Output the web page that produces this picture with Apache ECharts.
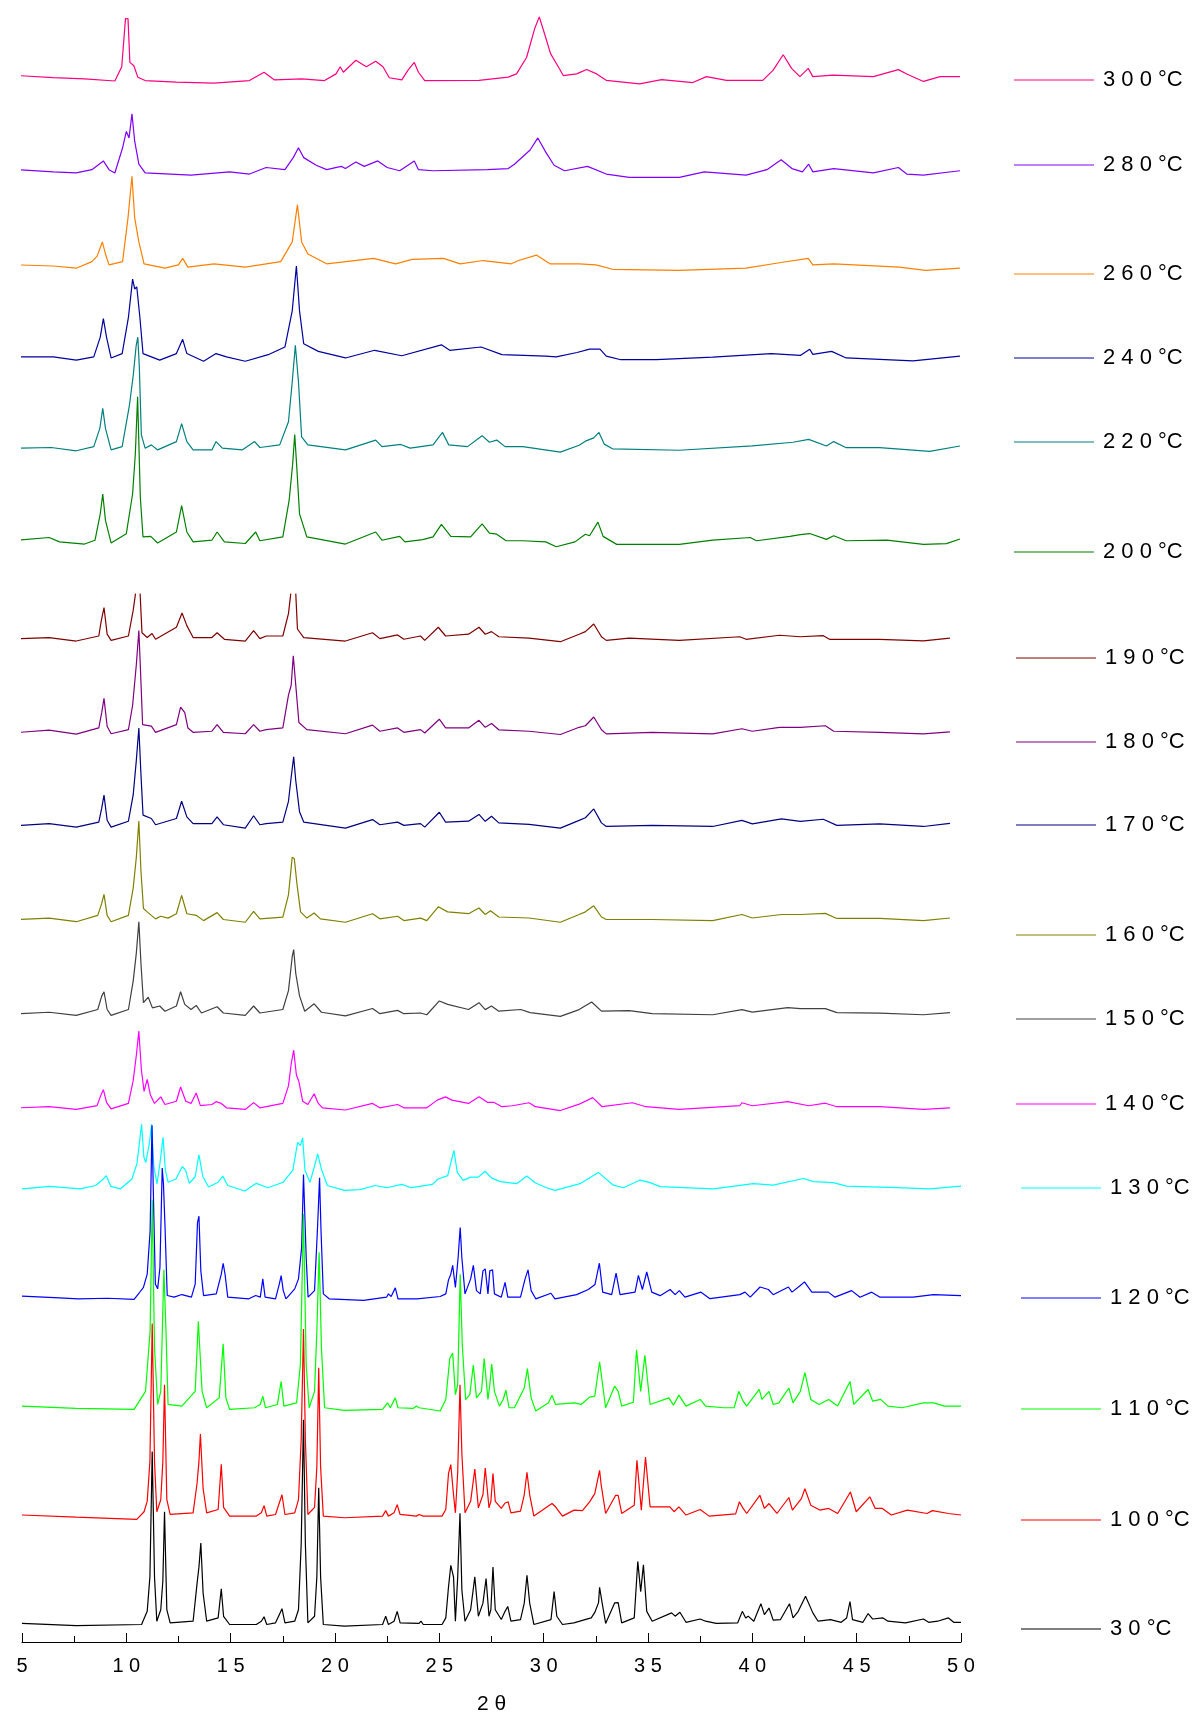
<!DOCTYPE html>
<html><head><meta charset="utf-8">
<script src="https://cdn.jsdelivr.net/npm/echarts@6/dist/echarts.min.js"></script>
<style>html,body{margin:0;padding:0;background:#fff}#c{width:1197px;height:1720px}</style>
</head><body><div id="c"></div>
<script>
// ---- tick labels ----
const xTicks = [5, 10, 15, 20, 25, 30, 35, 40, 45, 50];
const xTickLabels = ['5', '1 0', '1 5', '2 0', '2 5', '3 0', '3 5', '4 0', '4 5', '5 0'];

// ---- series names (top to bottom) ----
const names = ['3 0 0 °C','2 8 0 °C','2 6 0 °C','2 4 0 °C','2 2 0 °C','2 0 0 °C','1 9 0 °C','1 8 0 °C','1 7 0 °C','1 6 0 °C','1 5 0 °C','1 4 0 °C','1 3 0 °C','1 2 0 °C','1 1 0 °C','1 0 0 °C','3 0 °C'];
// vertical stacking offsets of each pattern (intensity units)
const offsets = [1428,1343,1258,1174,1090,1005,916,831,746,660,574,488,415,315,214,115,16];

// ---- patterns: [2theta, intensity above own baseline] ----
const t300 = [[4.8,3],[6.5,1],[8,0],[9.45,-2],[9.78,11],[9.96,55],[10.08,55],[10.17,15],[10.36,12],[10.55,1.5],[10.9,-1.6],[12.4,-3],[14.2,-4],[15.9,-1.6],[16.6,6],[17.1,-1],[18.4,0],[19.5,-1.6],[20.05,4.5],[20.25,11],[20.4,6],[21.0,17],[21.5,11],[21.95,16],[22.3,11],[22.6,1],[23.2,-1],[23.5,8],[23.8,15],[24.0,6],[24.3,-1.6],[26.9,-1.5],[28.3,1.5],[28.7,4.5],[29.18,19.5],[29.58,46.5],[29.79,56.6],[30.06,40],[30.33,23],[30.7,11],[30.94,3],[31.58,4.5],[32.06,8.5],[32.54,4.5],[33.0,-1.4],[34.6,-4.7],[35.65,-0.7],[37.15,-3.4],[37.8,2],[38.76,-1.4],[40.5,-1.4],[41.0,8],[41.48,22],[41.88,9.5],[42.28,2],[42.68,9.5],[42.9,2],[43.87,3.3],[45.8,2],[47.0,8.4],[47.4,4.4],[48.2,-2.4],[49.0,2],[49.95,2]];
const t280 = [[4.8,2],[6.5,0],[7.6,-1],[8.35,2],[8.9,10],[9.17,2],[9.45,-1],[9.82,22],[10.0,37],[10.13,31],[10.27,53],[10.4,28],[10.6,7],[10.9,-1],[13.1,-3],[14.95,0],[15.9,-2],[16.7,4],[17.6,2],[18.0,13],[18.25,22],[18.5,13],[19.1,6],[19.6,2],[20.3,5],[20.5,3],[21.0,9],[21.4,5],[22.05,10],[22.5,4],[23.1,1],[23.8,10],[24.0,2],[24.7,1],[27.3,2],[28.3,3],[28.6,7],[29.35,20],[29.72,31],[30.1,18],[30.5,6],[31.0,1],[32.1,5],[33.0,-2],[34.1,-5],[36.5,-5],[37.7,0],[39.7,-3],[40.7,2],[41.38,11],[41.9,3],[42.4,0],[42.7,7],[42.9,0],[43.9,3],[45.8,-1],[47.0,4],[47.4,-2],[48.2,-3],[49.95,1]];
const t260 = [[4.8,0],[6.5,-1],[7.6,-3],[8.35,3],[8.6,8],[8.85,21],[9.0,10],[9.17,0],[9.82,3],[10.08,43],[10.27,81],[10.4,43],[10.6,21],[10.85,1],[11.85,-3],[12.5,0],[12.7,6],[12.95,-2],[14.2,1],[15.7,-2],[17.4,3],[17.95,21],[18.2,55],[18.4,21],[18.7,10],[19.6,1],[21.85,6],[22.9,1],[23.7,5],[25.2,6],[26.0,1],[27.1,4],[28.45,1],[28.8,4],[29.65,9],[30.3,1],[31.7,1],[32.5,0],[33.3,-4],[36.5,-5],[39.7,-3],[41.3,2],[42.68,6],[42.9,0],[43.9,1],[47.05,-2],[48.3,-5],[49.95,-3]];
const t240 = [[4.8,0],[6.5,0],[7.6,-3],[8.44,0],[8.75,18],[8.9,35],[9.05,18],[9.27,-1],[9.8,3],[10.1,36],[10.3,71],[10.4,62],[10.5,64],[10.65,36],[10.8,3],[11.6,-3],[12.4,3],[12.7,16],[12.9,3],[13.7,-4],[14.3,3],[14.8,0],[15.7,-4],[16.8,2],[17.6,9],[17.95,42],[18.15,83],[18.3,42],[18.5,12],[19.2,5],[20.5,-1],[21.9,6],[23.2,1],[25.1,11],[25.5,6],[27.0,9],[28.0,2],[30.1,0.7],[30.6,0],[31.6,4],[32.2,7],[32.7,7],[33.0,0.7],[33.7,-2.6],[35.4,-2.6],[38.1,-0.3],[40.9,3],[42.3,1.3],[42.75,7],[42.9,2.3],[43.8,5],[44.5,-1],[47.7,-3.6],[49.95,0.7]];
const t220 = [[4.8,0.6],[6.4,1.2],[7.6,-1.8],[8.44,2],[8.73,18.7],[8.87,37],[9.0,18.7],[9.27,-1],[9.8,2],[10.15,40],[10.33,67],[10.47,94],[10.55,102],[10.62,76],[10.72,12.7],[10.9,0.6],[11.2,3.6],[11.5,-1],[12.4,6.6],[12.65,23],[12.9,6.6],[13.2,-1],[14.1,-1],[14.3,6.6],[14.6,0.6],[15.55,-1],[16.15,6.6],[16.4,1.2],[17.35,3.6],[17.77,24.7],[17.95,61],[18.1,94.6],[18.25,61],[18.4,11],[18.7,3.6],[20.5,-1],[21.95,8],[22.25,2],[23.15,4],[23.6,0.6],[24.7,3.6],[25.15,15],[25.45,3.6],[26.35,2],[27.05,12],[27.4,6],[27.75,8],[28.15,2],[29.0,2],[30.8,-3],[31.7,3.3],[32.0,7],[32.4,10],[32.65,15],[32.9,4.3],[33.3,0],[36.5,-1.3],[40.0,2.6],[41.95,6],[42.7,8.6],[43.55,2.6],[43.9,6.6],[44.5,1],[46.1,1],[48.5,-2.3],[49.95,2.6]];
const t200 = [[4.8,1.5],[6.3,4],[6.8,0],[8.0,-2],[8.5,1.5],[8.75,25.6],[8.87,43.7],[9.0,19.6],[9.27,-1],[10.0,7.5],[10.3,43.7],[10.43,80],[10.54,132.5],[10.6,132.5],[10.67,40.7],[10.8,4.5],[11.17,5],[11.5,-1],[12.4,9],[12.65,33],[12.9,9],[13.2,0],[14.1,1.5],[14.35,9],[14.7,0],[15.7,-1.5],[16.2,9],[16.4,1],[17.5,4.5],[17.8,37.6],[17.97,70.8],[18.07,98],[18.16,70.8],[18.3,25.6],[18.65,4.5],[20.5,-2],[21.95,9],[22.25,1.5],[23.1,5],[23.35,0],[24.2,2],[24.7,4.5],[25.1,16],[25.55,5],[26.5,4.5],[27.05,16.5],[27.4,8],[27.75,7],[28.2,1],[29.0,1],[30.1,0],[30.6,-4.5],[31.5,0],[32.0,7],[32.2,5.6],[32.6,18],[32.85,5],[33.5,-2.3],[36.5,-2.3],[38.1,1.6],[39.9,4],[40.2,1],[41.8,5],[42.3,6.6],[42.75,7.6],[43.55,2.3],[43.9,5.6],[44.5,1],[46.45,1.6],[48.2,-2.3],[49.3,-1.6],[49.95,2.6]];
const t190 = [[4.9,0.6],[6.3,1.6],[7.6,-1.6],[8.68,3],[8.8,17],[8.93,29],[9.08,4.7],[9.27,-1],[10.1,3],[10.33,26.6],[10.44,41.7],[10.55,'-'],[10.66,41.7],[10.75,6],[11.0,1.6],[11.23,5.3],[11.4,0],[12.4,11],[12.67,24],[12.9,12.5],[13.2,1.6],[14.1,1.6],[14.35,6],[14.7,0],[15.7,-1.6],[16.1,8],[16.4,0.6],[16.7,3],[17.5,3],[17.77,23.5],[17.88,41.7],[18.0,'-'],[18.12,41.7],[18.2,9.4],[18.5,1.6],[20.5,-1.6],[21.8,6],[22.15,0.6],[23.0,4],[23.3,0],[24.1,3],[24.3,-1],[24.95,11],[25.3,3],[26.4,4.7],[26.9,11],[27.2,4.6],[27.5,7],[27.85,2.3],[29.3,1],[30.8,-2.2],[31.7,4.6],[32.0,7],[32.4,14],[32.77,2.3],[33.0,-1],[34.1,1],[36.5,-1],[39.4,2.3],[39.7,0],[41.3,3.7],[42.3,2.3],[43.4,3.3],[43.7,0],[46.1,0],[48.2,-1.4],[49.47,1]];
const t180 = [[4.9,0],[6.3,2],[7.6,-1.6],[8.68,4],[8.82,18],[8.93,31],[9.08,5.6],[9.27,-1.3],[10.1,2.5],[10.3,24.5],[10.48,62],[10.6,93],[10.68,56],[10.78,7],[11.2,5.6],[11.4,0],[12.4,7],[12.6,23],[12.8,18],[12.95,4],[13.2,0],[14.1,1],[14.35,7],[14.65,0],[15.7,-1.3],[16.1,7],[16.4,1],[16.7,2.5],[17.5,4],[17.77,34],[17.9,43],[18.0,70],[18.12,43],[18.27,9],[18.65,2.5],[20.5,-1.3],[21.8,6.6],[22.15,1],[23.0,4],[23.3,0],[24.1,2.5],[24.3,-0.6],[25.0,12],[25.3,4],[26.4,4],[26.9,11],[27.2,4.6],[27.5,8],[27.85,2.3],[29.3,1],[30.8,-2],[31.7,4.6],[32.0,6],[32.4,14],[32.77,2.3],[33.0,-1.4],[35.2,0],[38.1,-1.4],[39.5,3.3],[40.0,1],[41.3,4.6],[42.3,4.6],[43.5,6],[43.9,1],[46.1,0],[48.2,-1.4],[49.47,0.5]];
const t170 = [[4.9,0],[6.3,1.6],[7.6,-1.6],[8.68,3],[8.82,15.7],[8.93,27.6],[9.08,4.7],[9.27,-1.6],[10.1,3.8],[10.33,28],[10.48,59.6],[10.6,89],[10.7,47],[10.8,9.4],[11.2,6.3],[11.4,0.6],[12.4,6.3],[12.65,22],[12.9,7.8],[13.2,1.6],[14.1,1.6],[14.35,7.8],[14.65,0.6],[15.7,-2.5],[16.1,8.8],[16.4,0.6],[16.7,1.6],[17.5,3],[17.77,22],[17.9,44],[18.02,62.7],[18.12,40.8],[18.3,12.5],[18.5,3],[20.5,-2.5],[21.8,5.3],[22.15,0.6],[23.0,3],[23.3,0],[24.1,1.6],[24.3,-1.6],[25.0,12],[25.3,3],[26.4,3.8],[26.9,10],[27.2,3.7],[27.5,8.4],[27.85,2.3],[29.3,1],[30.8,-2.5],[31.7,4.6],[32.0,7],[32.4,15],[32.77,2.3],[33.0,-1],[35.2,0],[38.1,-1],[39.5,4.6],[40.0,1.4],[41.4,6],[42.3,3.7],[43.4,5.6],[44.05,0],[46.1,1.4],[48.2,-1],[49.47,1.9]];
const t160 = [[4.9,0],[6.3,1.3],[7.6,-2],[8.63,3.8],[8.82,14.7],[8.93,23],[9.08,3.8],[9.27,-2],[10.1,3.8],[10.33,29],[10.48,57],[10.6,90],[10.7,44.5],[10.82,10],[11.0,7],[11.4,0.6],[11.65,3],[12.0,1.3],[12.4,5.3],[12.65,22],[12.9,5.3],[13.35,3.8],[13.7,-1],[14.35,6.3],[14.65,0],[15.7,-2.5],[16.1,7.5],[16.4,0.6],[17.5,2.2],[17.77,22.6],[17.95,57],[18.05,55.5],[18.18,32],[18.35,7],[18.65,1.3],[19.0,6],[19.3,0.6],[20.5,-2.5],[21.8,5.3],[22.15,0.6],[23.0,3],[23.3,-1],[24.1,1.3],[24.4,-1],[24.95,11.6],[25.4,7],[26.4,5.3],[26.9,10.5],[27.2,4.6],[27.45,8],[27.85,2.3],[29.3,1.4],[30.8,-2.5],[31.7,4.6],[32.0,7],[32.4,12.5],[32.77,2.3],[33.0,0],[35.2,0],[38.1,-1],[39.5,4.6],[40.0,1.4],[41.4,4.6],[42.3,4.6],[43.5,5.6],[44.05,1],[46.1,1],[48.2,-1],[49.47,1.4]];
const t150 = [[4.9,0],[6.3,1.3],[7.6,-1.6],[8.63,3.8],[8.82,16],[8.93,20],[9.08,3.8],[9.27,-1.6],[10.1,3.8],[10.33,30],[10.48,55.5],[10.6,84],[10.7,46],[10.82,10],[11.05,15],[11.25,5.3],[11.6,7],[11.85,2.2],[12.4,7],[12.6,20],[12.8,8.5],[13.1,3.8],[13.35,7.5],[13.6,0.6],[14.35,6.3],[14.65,0.6],[15.7,-1.6],[16.1,7],[16.4,0.6],[17.5,3.8],[17.77,21],[17.95,52],[18.02,58.6],[18.12,36.7],[18.3,16.3],[18.55,2.2],[19.0,9],[19.35,1.3],[20.5,-2],[21.8,4.7],[22.15,0],[23.0,3],[23.3,0],[24.1,0.6],[24.4,-1],[25.0,11.6],[25.4,8.5],[26.4,3.8],[26.9,10],[27.2,3.7],[27.5,7],[27.85,2.3],[28.9,3.8],[29.35,1],[30.8,-2.5],[31.7,3.7],[32.3,10.7],[32.77,2.3],[34.1,2.8],[35.2,0],[38.1,-1],[39.5,3.7],[40.0,1.4],[41.7,5.6],[42.3,4.6],[43.5,4.6],[44.05,1],[46.1,0.5],[48.2,-1],[49.47,1]];
const t140 = [[4.9,0],[6.3,1],[7.6,-1.5],[8.6,2],[8.75,10],[8.9,16.6],[9.05,5],[9.27,-1],[10.1,4],[10.33,25],[10.48,48],[10.6,70],[10.72,35],[10.85,15],[11.0,26],[11.15,12],[11.35,4],[11.65,10],[11.85,3],[12.4,6],[12.6,19],[12.85,6],[13.1,4],[13.35,13.5],[13.55,2],[14.1,3],[14.3,5.6],[14.55,4],[14.8,0],[15.7,-1.5],[16.1,4.7],[16.4,0],[17.5,4],[17.77,20],[17.9,40],[18.02,52.6],[18.15,30],[18.27,24],[18.45,6],[18.7,3],[19.0,12.8],[19.2,4],[19.4,0],[20.5,-2],[21.8,4],[22.15,0],[23.0,3],[23.3,0],[24.4,0],[24.9,7],[25.3,10],[25.6,7],[26.4,4],[26.9,10],[27.3,5],[27.6,5],[28.0,1],[28.5,1.9],[29.3,4.6],[29.6,1],[30.8,-2.5],[31.7,3.3],[32.35,9.3],[32.8,1],[34.25,4.6],[34.9,1],[36.5,-1.4],[39.4,1.9],[39.5,4.6],[40.0,1.9],[41.7,5.6],[42.7,1.9],[43.5,4.2],[44.05,1],[46.1,1],[48.2,-1.4],[49.47,0]];
const t130 = [[5.0,-1],[6.33,1.2],[7.8,-1],[8.53,2],[8.9,8],[9.04,11],[9.26,1.2],[9.72,-1],[10.27,8],[10.51,22],[10.64,43],[10.73,58],[10.84,28],[10.93,23],[11.1,40],[11.21,58],[11.32,19],[11.47,3.6],[11.61,22],[11.76,46],[11.87,16],[12.0,5],[12.38,8],[12.68,19.4],[12.84,16],[13.02,4],[13.3,10],[13.48,30],[13.67,10],[13.94,0.6],[14.4,5],[14.62,10.6],[14.86,2],[15.68,-3],[16.23,4],[16.78,0],[17.52,5],[17.98,16],[18.21,41.5],[18.34,38.5],[18.45,45.5],[18.56,16],[18.8,5],[19.02,20],[19.17,31],[19.35,17],[19.63,2],[20.45,-2.4],[21.2,-1.8],[21.92,2],[22.47,0],[23.2,3],[23.66,0],[24.67,3],[24.94,8],[25.4,11],[25.7,34],[25.86,14],[26.14,6.7],[26.5,9.7],[26.87,9.7],[27.19,15],[27.5,9],[27.91,5.6],[28.71,3.7],[29.19,10.7],[29.59,4.6],[30.14,0],[30.54,-2.4],[31.74,3.7],[32.62,14],[33.34,2.3],[33.82,0],[34.62,7],[35.1,4.6],[35.58,1],[38.13,-1],[40.05,3.7],[41.0,2.3],[42.45,8.4],[42.93,5.6],[43.88,4.6],[44.52,1.4],[46.92,0],[48.5,-1],[50.0,1.4]];
const t120 = [[5.0,1],[6.8,-0.6],[7.7,-1.5],[9.1,-1],[10.37,-2],[10.64,4.5],[10.82,9],[11.0,21],[11.14,60.6],[11.23,157],[11.3,91],[11.39,12],[11.5,7.6],[11.61,27],[11.72,118],[11.78,103],[11.85,66.7],[11.96,1.5],[12.29,0],[12.66,2.4],[13.12,0],[13.3,12],[13.41,68],[13.48,74],[13.57,24],[13.7,1.5],[14.31,3],[14.55,21],[14.64,31],[14.73,21],[14.86,0],[15.87,-1.5],[16.2,1.5],[16.42,0],[16.54,16.7],[16.65,0],[17.15,-1.5],[17.33,12],[17.42,19.7],[17.52,6],[17.65,-1.5],[18.07,7.6],[18.25,16.7],[18.4,45],[18.49,112],[18.54,112],[18.62,36],[18.71,0],[19.02,6],[19.17,66.7],[19.26,109],[19.33,60.6],[19.44,3],[19.72,-1.5],[21.37,-3],[22.47,0],[22.56,3],[22.69,0.6],[22.89,8.5],[23.02,-1.5],[23.93,-1.5],[25.04,0.6],[25.31,3],[25.44,15.8],[25.55,21],[25.64,29],[25.77,9],[25.9,36],[26.0,63.6],[26.08,36],[26.23,3],[26.5,16.7],[26.63,29],[26.78,6],[26.96,3],[27.09,24],[27.2,25.8],[27.33,3],[27.42,24],[27.55,25],[27.64,3],[27.97,0],[28.15,13.6],[28.28,0],[28.89,0],[29.11,16.7],[29.25,25],[29.4,6],[29.62,-1.5],[30.35,3.6],[30.54,-1.5],[31.58,2.3],[32.14,7],[32.46,11.6],[32.67,31],[32.83,4.6],[33.26,2.3],[33.47,22],[33.66,2.3],[34.38,4.6],[34.54,20],[34.73,7],[34.94,23],[35.18,4.6],[35.58,1.4],[36.06,7],[36.3,2.3],[36.5,6],[36.77,0],[37.54,4.6],[37.97,-1.4],[39.4,2.3],[39.65,4.6],[39.9,0],[40.37,9.3],[40.77,7],[41.0,2.3],[41.73,9.3],[41.9,4.6],[42.3,10.7],[42.5,14],[42.85,4.6],[43.64,4.6],[43.96,0],[44.76,6],[45.16,0],[45.72,4.6],[46.12,0],[47.7,0],[48.68,2.3],[50.0,1.4]];
const t110 = [[5.0,1.5],[7.6,-0.6],[10.37,-1.5],[10.92,15],[11.14,70],[11.24,190],[11.35,55],[11.5,3],[11.65,15],[11.8,126],[11.9,70],[12.0,3],[12.66,1.5],[13.3,15],[13.45,79],[13.52,79],[13.63,15],[13.85,0],[14.45,9],[14.64,58.5],[14.77,9],[14.95,-1.5],[16.14,0],[16.42,3],[16.54,10.6],[16.67,0],[17.24,3],[17.42,24],[17.55,1.5],[18.16,4.5],[18.34,39],[18.49,177],[18.62,39],[18.76,0],[19.02,15],[19.13,70],[19.24,142],[19.35,55],[19.5,0],[20.45,-2.4],[22.28,-1.5],[22.52,4.5],[22.65,0],[22.89,9],[23.02,0],[23.75,-0.6],[23.9,1.5],[24.03,0],[25.04,-3],[25.31,7.5],[25.5,45],[25.64,50],[25.77,12],[25.88,21],[26.0,122],[26.1,57.6],[26.26,7.5],[26.46,12],[26.63,39],[26.78,9],[27.02,15],[27.15,45],[27.33,7.5],[27.42,21],[27.51,40],[27.64,15],[27.88,1.5],[28.06,7.5],[28.19,16],[28.34,0],[28.6,0],[29.07,18],[29.22,35.7],[29.4,9],[29.62,-3],[30.23,4.5],[30.4,11.5],[30.57,3],[31.46,4.5],[31.8,3],[32.2,9.7],[32.45,10.6],[32.68,42],[32.97,0],[33.4,19.7],[33.57,15],[33.74,1.5],[34.3,5],[34.45,53],[34.65,15],[34.85,48],[35.1,3],[36.0,9],[36.22,2.4],[36.48,11.5],[36.82,1.5],[37.5,7.6],[37.76,1.5],[38.62,0],[39.13,0],[39.35,15],[39.56,6],[39.73,1.5],[40.33,16.7],[40.46,7.6],[40.8,15],[41.0,3],[41.27,4.5],[41.75,18],[41.95,4.5],[42.3,15],[42.52,32],[42.8,7.6],[43.2,3],[43.66,7.6],[44.09,1.5],[44.68,24],[44.86,3],[45.55,16.7],[45.77,6],[46.15,7.6],[46.5,1.5],[47.17,0],[48.2,4.5],[48.7,4.5],[49.2,1.5],[50.0,1.5]];
const t100 = [[5.0,1],[7.6,-1],[10.5,-3],[10.85,4],[11.0,13.5],[11.13,50],[11.24,176],[11.35,50],[11.46,4],[11.65,15],[11.75,50],[11.83,120],[11.94,15],[12.1,1.5],[13.2,3],[13.39,30],[13.48,50],[13.55,75],[13.68,25],[13.85,3],[14.4,6],[14.55,47.4],[14.66,8],[14.95,0],[16.23,0],[16.47,3],[16.6,9.6],[16.73,0],[17.15,1.5],[17.33,12],[17.46,19.5],[17.6,1.5],[18.07,3],[18.25,15],[18.38,70],[18.49,171],[18.58,70],[18.7,1.5],[19.02,8],[19.13,45],[19.22,135.5],[19.31,45],[19.44,0],[20.45,-1.5],[22.28,0],[22.43,5],[22.56,0],[22.83,3],[22.98,10.5],[23.12,1.5],[23.9,0],[24.03,1.5],[24.23,0],[25.13,0],[25.31,6],[25.44,39],[25.55,47],[25.68,19.5],[25.77,3],[25.88,40],[25.99,120],[26.08,57],[26.23,3],[26.5,13.5],[26.7,43],[26.87,7.5],[27.09,19.5],[27.2,44],[27.38,7.5],[27.47,13.5],[27.57,39],[27.68,13.5],[27.97,7],[28.15,12],[28.3,13],[28.43,3],[28.89,4.5],[29.07,19.5],[29.2,40],[29.33,19.5],[29.53,0],[30.4,11.5],[30.57,8.5],[30.9,0],[31.46,5.5],[31.86,5],[32.2,13],[32.45,20.6],[32.68,41.8],[32.76,28],[32.97,2.4],[33.45,19],[33.57,19],[33.74,2.4],[34.34,10],[34.47,51],[34.68,5.5],[34.88,54],[35.1,8.5],[36.05,8.5],[36.25,4],[36.48,8.5],[36.82,1],[37.5,6],[37.93,0],[39.2,2],[39.38,13],[39.56,7],[39.73,2.4],[40.36,19],[40.58,7],[40.8,11.5],[41.18,2.4],[41.75,17],[41.92,5.5],[42.35,16],[42.52,25],[42.8,10],[43.23,5.5],[43.66,7],[44.09,2.4],[44.7,22],[44.98,4],[45.63,17.6],[45.89,7],[46.23,7],[46.66,1],[47.43,5.5],[48.37,2.4],[48.63,5],[49.4,2.4],[50.0,1]];
const t30 = [[5.0,1],[7.6,-1],[10.73,0],[11.0,12],[11.13,43.5],[11.24,158],[11.35,43.5],[11.46,3],[11.65,13.5],[11.75,40],[11.83,103],[11.94,13.5],[12.1,1.5],[13.2,3],[13.39,37.5],[13.48,52.5],[13.57,74.5],[13.68,28.5],[13.85,3],[14.4,6],[14.55,32.7],[14.66,7.5],[14.95,0],[16.23,0],[16.47,3],[16.6,7],[16.73,0],[17.15,1.5],[17.33,9],[17.46,14.4],[17.6,1.5],[18.07,3],[18.25,13.5],[18.38,73.6],[18.49,187],[18.58,73.6],[18.7,1.5],[19.02,7.5],[19.13,43.5],[19.22,125],[19.31,43.5],[19.44,0],[20.45,-1.5],[22.28,0],[22.43,7.5],[22.56,0],[22.83,3],[22.98,12],[23.12,1.5],[24.03,1],[24.12,3],[24.23,0],[25.13,0],[25.31,6],[25.44,34.5],[25.55,54],[25.68,43.5],[25.77,3],[25.88,43.5],[25.99,101.5],[26.08,31.5],[26.23,3],[26.5,13.5],[26.7,43.5],[26.87,7.5],[27.09,19.5],[27.24,42],[27.38,7.5],[27.47,13.5],[27.57,52.5],[27.68,13.5],[27.97,4.5],[28.15,12],[28.28,16.5],[28.43,3],[28.89,4.5],[29.07,19.5],[29.2,45],[29.33,19.5],[29.53,0],[30.35,4.5],[30.5,30],[30.63,7.5],[30.9,0],[31.45,1.5],[31.98,4.5],[32.28,6],[32.45,11],[32.63,20],[32.68,34],[32.8,20],[32.97,1],[33.4,19.7],[33.57,20],[33.74,1.5],[34.34,6],[34.51,57.6],[34.65,30],[34.78,54.5],[34.94,12],[35.2,3],[36.13,10.6],[36.3,7.6],[36.53,11.2],[36.82,2],[37.5,5],[37.76,3],[38.27,1],[39.3,1.5],[39.52,12],[39.68,6],[39.8,7.6],[40.07,3],[40.41,19],[40.58,9],[40.8,15],[41.0,4],[41.35,4.5],[41.78,19],[41.95,6],[42.2,12],[42.55,25.8],[42.9,10.6],[43.15,3],[43.75,4.5],[44.26,2],[44.52,6],[44.68,21],[44.8,4.5],[45.3,2],[45.55,10],[45.77,5],[46.26,6],[46.5,3],[47.34,1.5],[48.2,5],[48.45,2],[48.88,3],[49.4,6],[49.65,2],[50.0,2]];

const patterns = [t300,t280,t260,t240,t220,t200,t190,t180,t170,t160,t150,t140,t130,t120,t110,t100,t30];

// ---- styling / layout (not data) ----
const colors = ['#FF0080','#8000FF','#FF8000','#0000A0','#008080','#008000','#800000','#800080','#000080','#808000','#404040','#FF00FF','#00FFFF','#0000FF','#00FF00','#FF0000','#000000'];
const legendLineY = [80,165,274,358,442,552,658,742,825,935,1019,1104,1188,1298,1409,1520,1629];
const legendLeft  = [1014,1014,1014,1014,1014,1014,1016,1016,1016,1016,1016,1016,1021,1021,1021,1021,1021];
const FONT = '"Liberation Sans", Arial, Helvetica, sans-serif';

const chart = echarts.init(document.getElementById('c'), null, {renderer: 'canvas'});

const series = patterns.map((p, i) => ({
  name: names[i],
  type: 'line',
  data: p.map(([x, h]) => [x, h === '-' ? '-' : offsets[i] + h]),
  showSymbol: false,
  symbol: 'none',
  clip: false,
  connectNulls: false,
  lineStyle: {color: colors[i], width: 1.2},
  itemStyle: {color: colors[i]},
  emphasis: {disabled: true},
  animation: false,
  z: 2 + i
}));

const legends = names.map((n, i) => ({
  data: [n],
  left: legendLeft[i],
  top: legendLineY[i] - 11,
  padding: 0,
  itemGap: 0,
  icon: 'rect',
  itemWidth: 80,
  itemHeight: 1,
  selectedMode: false,
  textStyle: {fontFamily: FONT, fontSize: 22, color: '#000', lineHeight: 22, padding: [0, 0, 0, 4]}
}));

chart.setOption({
  animation: false,
  backgroundColor: '#fff',
  grid: {left: 22, right: 236, top: 0, bottom: 74, containLabel: false},
  legend: legends,
  xAxis: {
    type: 'value', min: 5, max: 50, interval: 5,
    name: '2 θ', nameLocation: 'middle', nameGap: 52,
    nameTextStyle: {fontFamily: FONT, fontSize: 21, color: '#000'},
    axisLine: {show: true, onZero: false, lineStyle: {color: '#000', width: 1}},
    axisTick: {show: true, inside: true, length: 9, lineStyle: {color: '#000', width: 1}},
    minorTick: {show: true, splitNumber: 2, length: 6, lineStyle: {color: '#000', width: 1}},
    splitLine: {show: false},
    axisLabel: {
      margin: 14, fontFamily: FONT, fontSize: 20, color: '#000',
      formatter: v => { const k = xTicks.indexOf(v); return k >= 0 ? xTickLabels[k] : ''; }
    }
  },
  yAxis: {type: 'value', min: 0, max: 1500, show: false},
  series: series
});
</script></body></html>
